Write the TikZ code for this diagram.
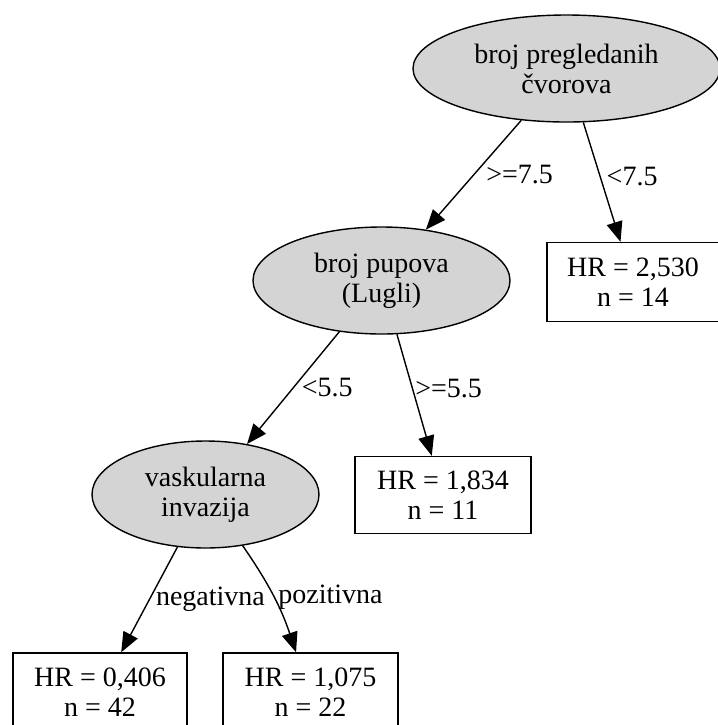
\documentclass[tikz,border=0pt]{standalone}
\usepackage{fontspec}
\setmainfont{Liberation Serif}
\usetikzlibrary{shapes.geometric,arrows.meta}

\begin{document}
\begin{tikzpicture}[
    x=0.5pt, y=-0.5pt,
    splitnode/.style={ellipse, draw=black, fill=black!17, line width=0.7pt, inner sep=0pt, align=center, font=\fontsize{14}{15}\selectfont},
    leafnode/.style={rectangle, draw=black, line width=0.7pt, inner sep=0pt, align=center, font=\fontsize{14}{15}\selectfont},
    condlabel/.style={font=\fontsize{14}{14}\selectfont, inner sep=0pt, anchor=west},
    branch/.style={-{Triangle[length=10pt,width=8pt]}, line width=0.7pt}
    ]
    \useasboundingbox (0,0) rectangle (718,725);

    \node (cvorovi) [splitnode, minimum width=153.5pt, minimum height=53.5pt] at (566.5,68.5) {broj pregledanih\\ čvorova};
    \node (pupovi) [splitnode, minimum width=128.5pt, minimum height=53.5pt] at (381.5,280.5) {broj pupova\\ (Lugli)};
    \node (invazija) [splitnode, minimum width=113.5pt, minimum height=53.5pt] at (205.5,494.5) {vaskularna\\ invazija};

    \node (hr2530) [leafnode, minimum width=86pt, minimum height=39.5pt] at (633,282) {HR = 2,530\\ n = 14};
    \node (hr1834) [leafnode, minimum width=88pt, minimum height=38.5pt] at (443,495) {HR = 1,834\\ n = 11};
    \node (hr0406) [leafnode, minimum width=87pt, minimum height=39pt] at (100,692) {HR = 0,406\\ n = 42};
    \node (hr1075) [leafnode, minimum width=87.5pt, minimum height=39pt] at (310.5,692) {HR = 1,075\\ n = 22};

    \draw [branch] (cvorovi) -- node [condlabel, pos=0.5, xshift=6pt] {>=7.5} (pupovi);
    \draw [branch] (cvorovi) -- node [condlabel, pos=0.45, xshift=3pt] {<7.5} (hr2530);
    \draw [branch] (pupovi) -- node [condlabel, pos=0.5, xshift=4pt] {<5.5} (invazija);
    \draw [branch] (pupovi) -- node [condlabel, pos=0.45, xshift=1pt] {>=5.5} (hr1834);
    \draw [branch] (invazija) -- node [condlabel, pos=0.5, xshift=3pt] {negativna} (hr0406);
    \draw [branch] (invazija) to [bend left=8] node [condlabel, pos=0.5, xshift=2pt] {pozitivna} (hr1075);
\end{tikzpicture}
\end{document}
